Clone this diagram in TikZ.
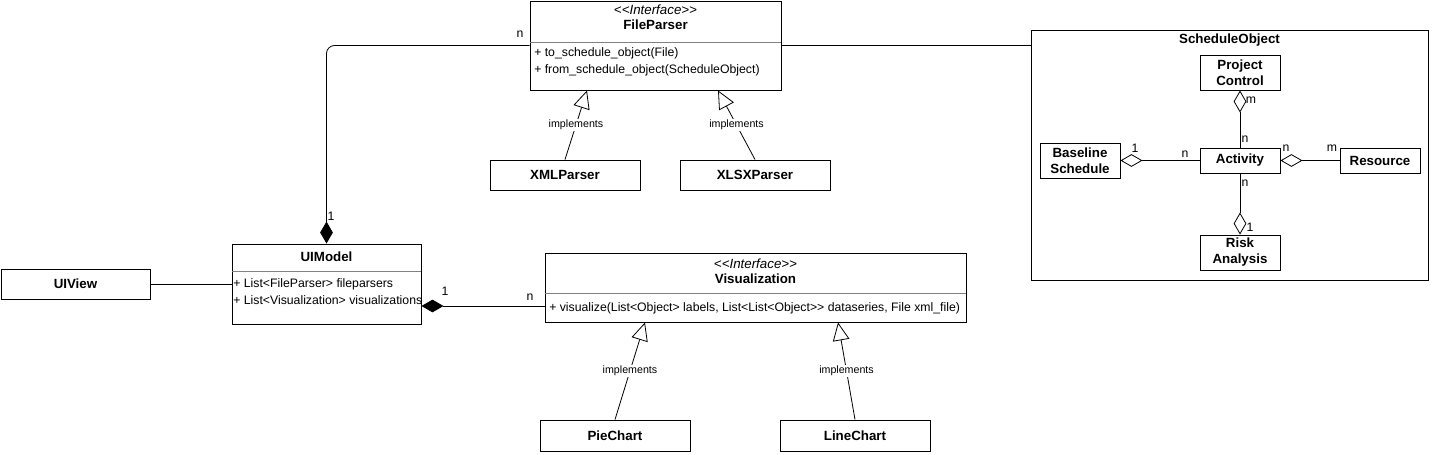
\documentclass[tikz,border=0pt]{standalone}
\usepackage{fontspec}
\setmainfont{Liberation Sans}
\usetikzlibrary{arrows.meta}

\tikzset{
  cls/.style={draw, rectangle, inner sep=0pt, line width=0.7pt, font=\bfseries, align=center},
  member/.style={anchor=west, inner sep=0.75pt},
  stereo/.style={inner sep=0.75pt, font=\itshape},
  title/.style={inner sep=0.75pt, font=\bfseries},
  mult/.style={inner sep=0.75pt},
  impl/.style={-{Triangle[open, length=13.5pt, width=12.5pt]}, line width=0.6pt},
  agg/.style={{Diamond[open, length=16.5pt, width=9.5pt]}-, line width=0.6pt},
  comp/.style={{Diamond[length=16.5pt, width=9.5pt]}-, line width=0.6pt},
  implabel/.style={fill=white, inner sep=1pt, font=\fontsize{8}{9}\selectfont}
}

\begin{document}
\begin{tikzpicture}[x=0.75pt,y=0.75pt,yscale=-1,xscale=1,font=\fontsize{9.2}{10.5}\selectfont]
\useasboundingbox (0,0) rectangle (1432,454);

% FileParser interface
\node[cls, minimum width=188.25pt, minimum height=66.75pt] (fp) at (655.5,45.5) {};
\draw[line width=0.4pt, gray] (fp.west |- 0,42) -- (fp.east |- 0,42);
\node[stereo] (fpst) at (655.5,10) {<{}<Interface>{}>};
\node[title] (fptl) at (655.5,25) {FileParser};
\node[member] (fpm1) at (533,53) {+ to\_schedule\_object(File)};
\node[member] (fpm2) at (533,70) {+ from\_schedule\_object(ScheduleObject)};

% parsers
\node[cls, minimum width=112.5pt, minimum height=22.5pt] (xml) at (565,175) {XMLParser};
\node[cls, minimum width=112.5pt, minimum height=22.5pt] (xlsx) at (755,175) {XLSXParser};

% UI
\node[cls, minimum width=141.75pt, minimum height=60pt] (um) at (326.5,284) {};
\draw[line width=0.4pt, gray] (um.west |- 0,271) -- (um.east |- 0,271);
\node[title] (umtl) at (326.5,257) {UIModel};
\node[member] (umm1) at (232,284) {+ List<FileParser> fileparsers};
\node[member] (umm2) at (232,300) {+ List<Visualization> visualizations};
\node[cls, minimum width=111.75pt, minimum height=22.5pt] (uv) at (75.5,284) {UIView};

% Visualization interface
\node[cls, minimum width=315.75pt, minimum height=51.75pt] (vis) at (755.5,287.5) {};
\draw[line width=0.4pt, gray] (vis.west |- 0,293) -- (vis.east |- 0,293);
\node[stereo] (visst) at (755.5,264) {<{}<Interface>{}>};
\node[title] (vistl) at (755.5,279) {Visualization};
\node[member] (vism1) at (548,308) {+ visualize(List<Object> labels, List<List<Object>{}> dataseries, File xml\_file)};

% charts
\node[cls, minimum width=112.5pt, minimum height=23.25pt] (pie) at (615,435.5) {PieChart};
\node[cls, minimum width=112.5pt, minimum height=23.25pt] (line) at (855,435.5) {LineChart};

% ScheduleObject package
\node[cls, minimum width=297.75pt, minimum height=187.5pt] (so) at (1229.5,155) {};
\node[title] (sotl) at (1229.5,40) {ScheduleObject};
\node[cls, minimum width=60pt, minimum height=26.25pt] (pc) at (1240,72.5) {Project\\Control};
\node[cls, minimum width=60pt, minimum height=18.75pt] (act) at (1240,160.5) {Activity};
\node[cls, minimum width=60pt, minimum height=26.25pt] (base) at (1080,160.5) {Baseline\\Schedule};
\node[cls, minimum width=60pt, minimum height=18.75pt] (res) at (1380,160.5) {Resource};
\node[cls, minimum width=60pt, minimum height=26.25pt] (risk) at (1240,252.5) {Risk\\Analysis};

% connectors
\draw[comp, rounded corners=6pt] (um.north) |- (fp.west);
\node[mult] (m1) at (520,34) {n};
\node[mult] (m2) at (331,216) {1};
\draw[line width=0.6pt] (fp.east) -- (fp.east -| so.west);

\draw[impl] (xml.north) -- node[implabel] (ixml) {implements} ([xshift=-51.4pt]fp.south);
\draw[impl] (xlsx.north) -- node[implabel] (ixlsx) {implements} ([xshift=46.9pt]fp.south);

\draw[line width=0.6pt] (uv.east) -- (um.west);
\coordinate (umv) at ([yshift=16.5pt]um.east);
\draw[comp] (umv) -- (umv -| vis.west);
\node[mult] (m3) at (445,291) {1};
\node[mult] (m4) at (530,297) {n};

\draw[impl] (pie.north) -- node[implabel] (ipie) {implements} ([xshift=-82.9pt]vis.south);
\draw[impl] (line.north) -- node[implabel] (iline) {implements} ([xshift=61.9pt]vis.south);

\draw[agg] (pc.south) -- (act.north);
\node[mult] (m5) at (1251,100) {m};
\node[mult] (m6) at (1245,139) {n};
\draw[agg] (base.east) -- (act.west);
\node[mult] (m7) at (1135,148) {1};
\node[mult] (m8) at (1185,154) {n};
\draw[agg] (act.east) -- (res.west);
\node[mult] (m9) at (1286,148) {n};
\node[mult] (m10) at (1332,148) {m};
\draw[agg] (risk.north) -- (act.south);
\node[mult] (m11) at (1245,183) {n};
\node[mult] (m12) at (1250,227) {1};

\end{tikzpicture}
\end{document}
